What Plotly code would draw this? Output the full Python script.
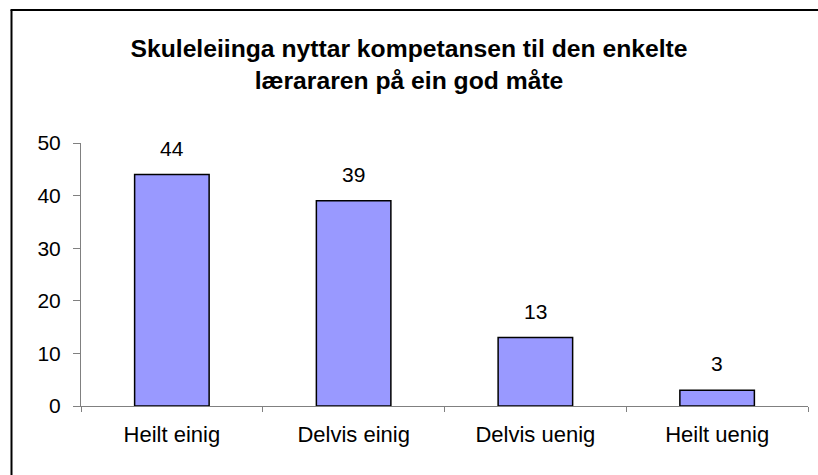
import plotly.graph_objects as go

categories = ["Heilt einig", "Delvis einig", "Delvis uenig", "Heilt uenig"]
values = [44, 39, 13, 3]
title_lines = ["Skuleleiinga nyttar kompetansen til den enkelte", "lærararen på ein god måte"]
y_ticks = [0, 10, 20, 30, 40, 50]

W, H = 818, 475
L, R, T, B = 81, 10, 143, 69
pw, ph = W - L - R, H - T - B

def px_x(p):
    return (p - L) / pw

def px_y(p):
    return (H - B - p) / ph

FONT = "Liberation Sans, Arial"

fig = go.Figure(go.Bar(
    x=categories, y=values,
    marker=dict(color="#9999FF", line=dict(color="black", width=1.5)),
    width=0.41,
))

for c, v in zip(categories, values):
    fig.add_annotation(x=c, y=v, text=str(v), showarrow=False,
                       yanchor="bottom", yshift=13,
                       font=dict(family=FONT, size=21, color="black"))

# frame: only left and top edges fall inside the picture
fig.add_shape(type="line", xref="paper", yref="paper",
              x0=px_x(11.5), x1=px_x(11.5), y0=px_y(10), y1=px_y(480),
              line=dict(color="black", width=2))
fig.add_shape(type="line", xref="paper", yref="paper",
              x0=px_x(10.5), x1=px_x(818), y0=px_y(10), y1=px_y(10),
              line=dict(color="black", width=2))

fig.update_layout(
    width=W, height=H,
    margin=dict(l=L, r=R, t=T, b=B),
    paper_bgcolor="white", plot_bgcolor="white",
    showlegend=False,
    font=dict(family=FONT, size=21, color="black"),
    title=dict(text="<br>".join(title_lines), x=0.5, xref="container", xanchor="center",
               y=1 - 57 / H, yref="container", yanchor="middle",
               font=dict(family=FONT, size=24.7, color="black", weight="bold")),
    xaxis=dict(showline=True, linecolor="#808080", linewidth=1,
               ticks="outside", ticklen=5, tickcolor="#808080", tickson="boundaries",
               showgrid=False, ticklabelstandoff=9, tickfont=dict(size=22)),
    yaxis=dict(range=[0, 50], tickvals=y_ticks, showline=True, linecolor="#808080", linewidth=1,
               ticks="outside", ticklen=7, tickcolor="#808080", showgrid=False, zeroline=False,
               ticklabelstandoff=8),
)

fig.write_html("out.html", config={"displayModeBar": False, "responsive": False},
               post_script="document.body.style.margin='0';document.body.style.padding='0';"
                           "document.body.style.overflow='hidden';document.documentElement.style.overflow='hidden';")
